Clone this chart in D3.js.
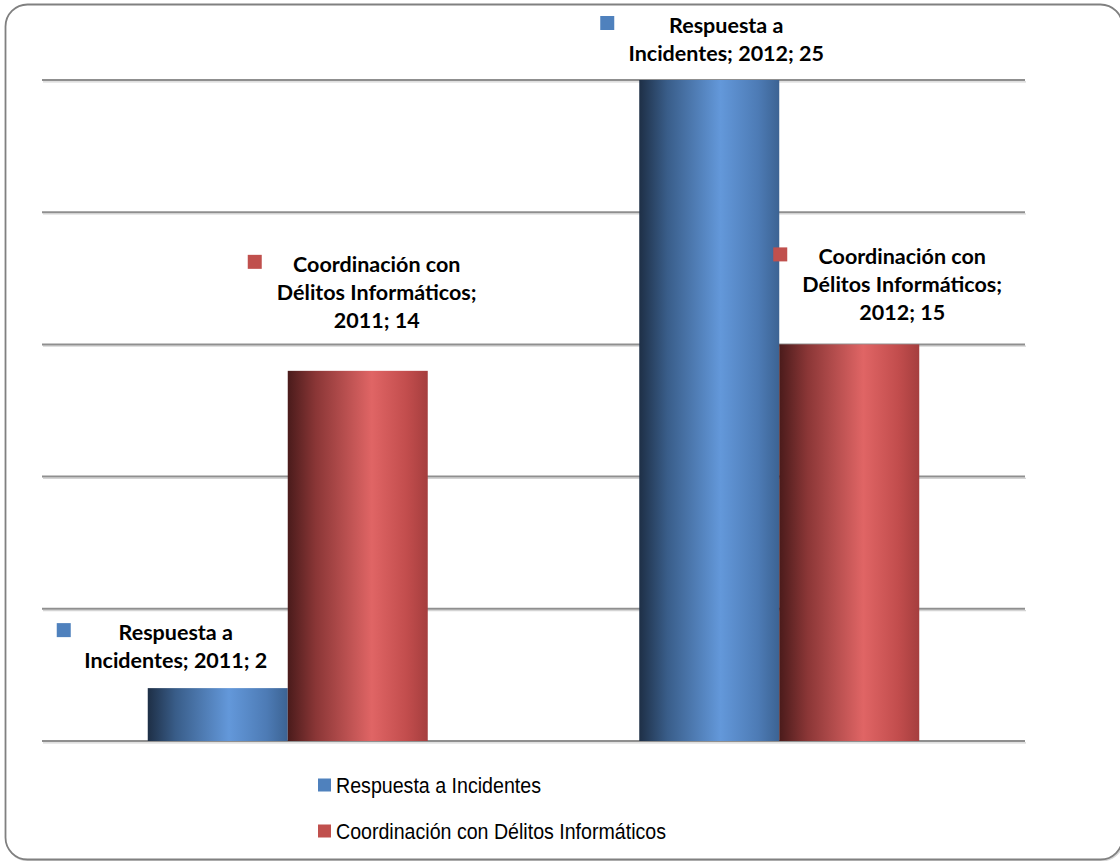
<!DOCTYPE html>
<html><head><meta charset="utf-8">
<script src="https://cdn.jsdelivr.net/npm/d3@7"></script>
<style>body{margin:0;background:#fff}svg{display:block}</style>
</head><body>
<script>
const categories = ["2011", "2012"];
const seriesNames = ["Respuesta a Incidentes", "Coordinación con Délitos Informáticos"];
const respuestaValues = [2, 25];
const coordinacionValues = [14, 15];
const yTicks = [0, 5, 10, 15, 20, 25];
const labelLines = [
  [["Respuesta a", "Incidentes; 2011; 2"], ["Respuesta a", "Incidentes; 2012; 25"]],
  [["Coordinación con", "Délitos Informáticos;", "2011; 14"], ["Coordinación con", "Délitos Informáticos;", "2012; 15"]]
];
// layout: [dx of text center from bar center, first baseline dy from bar top, marker dx from text center]
const labelOffsets = [
  [[-42, -48, -119], [17, -47, -126]],
  [[19, -99, -129], [53, -80, -129]]
];

const W = 1120, H = 861;
const svg = d3.select("body").append("svg").attr("width", W).attr("height", H);
const defs = svg.append("defs");

function grad(id, stops) {
  const g = defs.append("linearGradient").attr("id", id).attr("x1", "0%").attr("x2", "100%").attr("y1", "0%").attr("y2", "0%");
  stops.forEach(s => g.append("stop").attr("offset", s[0]).attr("stop-color", s[1]));
}
grad("gBlue", [["0%", "#1e2f46"], ["20%", "#395d89"], ["58%", "#6398da"], ["85%", "#4d7bb5"], ["100%", "#3c6393"]]);
grad("gRed", [["0%", "#4a1b1b"], ["20%", "#8a3636"], ["60%", "#e06565"], ["85%", "#c24d4d"], ["100%", "#a53e3e"]]);
const fills = ["url(#gBlue)", "url(#gRed)"];
const solid = ["#4f81bd", "#c0504d"];

// border
svg.append("rect").attr("x", 6.5).attr("y", 5.5).attr("width", 1117).attr("height", 855).attr("rx", 22)
  .attr("fill", "none").attr("stroke", "#d8d8d8").attr("stroke-width", 2);
svg.append("rect").attr("x", 5.5).attr("y", 4.5).attr("width", 1117).attr("height", 855).attr("rx", 22)
  .attr("fill", "#fff").attr("stroke", "#808080").attr("stroke-width", 1.8);

const x0 = d3.scaleBand().domain(categories).range([42, 1025]).padding(0);
const bw = x0.bandwidth();
const x1 = d3.scaleBand().domain(seriesNames).range([(bw - 280) / 2, (bw + 280) / 2]).padding(0);
const y = d3.scaleLinear().domain([0, 25]).range([741, 80]);

// gridlines with soft shadow
const grid = svg.append("g");
grid.selectAll("line.sh").data(yTicks).join("line").attr("class", "sh")
  .attr("x1", 43).attr("x2", 1026)
  .attr("y1", d => y(d) + 1.8).attr("y2", d => y(d) + 1.8)
  .attr("stroke", "#d4d4d4").attr("stroke-width", 1.2);
grid.selectAll("line.g").data(yTicks).join("line").attr("class", "g")
  .attr("x1", 42).attr("x2", 1025)
  .attr("y1", d => y(d)).attr("y2", d => y(d))
  .attr("stroke", "#8f8f8f").attr("stroke-width", 2);

const seriesVals = [respuestaValues, coordinacionValues];
const bars = [];
seriesVals.forEach((vals, si) => {
  vals.forEach((v, ci) => {
    bars.push({si, ci, v, cat: categories[ci], ser: seriesNames[si]});
  });
});

svg.append("g").selectAll("rect").data(bars).join("rect")
  .attr("x", d => x0(d.cat) + x1(d.ser))
  .attr("width", x1.bandwidth())
  .attr("y", d => y(d.v))
  .attr("height", d => y(0) - y(d.v))
  .attr("fill", d => fills[d.si]);

// data labels
const lab = svg.append("g").attr("font-family", "Lato, 'Open Sans', sans-serif").attr("font-weight", "bold").attr("font-size", 21.5).attr("fill", "#000");
bars.forEach(d => {
  const lines = labelLines[d.si][d.ci];
  const off = labelOffsets[d.si][d.ci];
  const cx = x0(d.cat) + x1(d.ser) + x1.bandwidth() / 2 + off[0];
  const by = y(d.v) + off[1];
  const t = lab.append("text").attr("text-anchor", "middle");
  lines.forEach((l, i) => t.append("tspan").attr("x", cx).attr("y", by + i * 28).text(l));
  lab.append("rect").attr("x", cx + off[2]).attr("y", by - 17).attr("width", 14).attr("height", 14).attr("fill", solid[d.si]);
});

// legend
const legendWidths = [205, 330];
const leg = svg.append("g").attr("font-family", "'Liberation Sans', Arial, sans-serif").attr("font-size", 22.5).attr("fill", "#000");
seriesNames.forEach((n, i) => {
  const ly = 785 + i * 46;
  leg.append("rect").attr("x", 318).attr("y", ly - 6.5).attr("width", 13).attr("height", 13).attr("fill", solid[i]);
  leg.append("text").attr("x", 336).attr("y", ly + 8).attr("textLength", legendWidths[i]).attr("lengthAdjust", "spacingAndGlyphs").text(n);
});
</script>
</body></html>
